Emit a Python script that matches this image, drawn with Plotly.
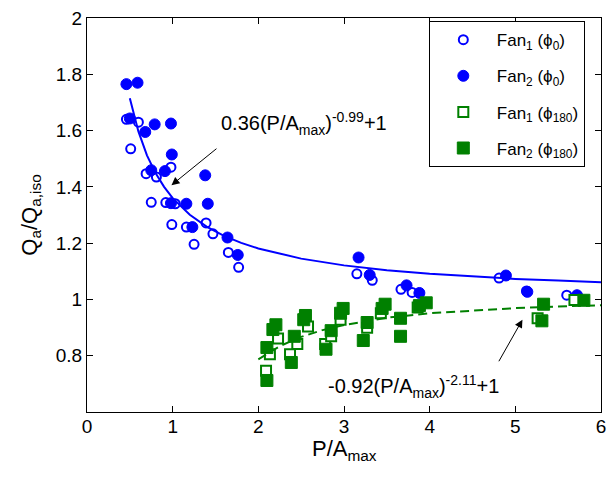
import plotly.graph_objects as go

# ---- data ----
fan1_phi0_x = [0.46, 0.60, 0.51, 0.98, 0.69, 0.81, 0.75, 0.92, 1.03, 0.99, 1.16, 1.39, 1.47, 1.25, 1.65, 1.77,
               3.15, 3.33, 3.665, 3.795, 4.81, 5.13, 5.60]
fan1_phi0_y = [1.64, 1.63, 1.535, 1.47, 1.447, 1.435, 1.345, 1.344, 1.34, 1.266, 1.257, 1.272, 1.233, 1.196, 1.167, 1.114,
               1.091, 1.068, 1.036, 1.025, 1.076, 1.03, 1.015]

fan2_phi0_x = [0.46, 0.59, 0.50, 0.79, 0.98, 0.68, 0.99, 0.75, 0.91, 1.38, 0.98, 1.16, 1.41, 1.23, 1.64, 1.76,
               3.17, 3.30, 3.73, 3.88, 4.89, 5.14, 5.72]
fan2_phi0_y = [1.765, 1.77, 1.643, 1.622, 1.625, 1.595, 1.515, 1.459, 1.456, 1.441, 1.342, 1.34, 1.34, 1.257, 1.22, 1.158,
               1.149, 1.087, 1.05, 1.023, 1.085, 1.027, 1.015]

fan1_phi180_x = [2.23, 2.455, 2.58, 2.135, 2.37, 2.09, 2.78, 2.85, 2.96, 3.27, 3.43, 3.86, 5.26, 5.69]
fan1_phi180_y = [0.861, 0.842, 0.904, 0.805, 0.805, 0.747, 0.842, 0.869, 0.928, 0.899, 0.951, 0.971, 0.933, 0.998]

fan2_phi180_x = [2.205, 2.17, 2.42, 2.55, 2.53, 2.10, 2.385, 2.10, 2.79, 2.85, 2.99, 2.96, 3.27, 3.225, 3.445, 3.48,
                 3.66, 3.66, 3.96, 3.88, 5.33, 5.31, 5.80]
fan2_phi180_y = [0.910, 0.893, 0.869, 0.943, 0.928, 0.829, 0.776, 0.712, 0.823, 0.889, 0.968, 0.951, 0.918, 0.854, 0.968, 0.983,
                 0.933, 0.869, 0.988, 0.978, 0.983, 0.924, 0.997]

# fitted curves
fit0_x = [0.5, 0.6, 0.7, 0.8, 0.9, 1.0, 1.2, 1.4, 1.6, 1.8, 2.0, 2.5, 3.0, 3.5, 4.0, 4.5, 5.0, 5.5, 6.0]
fit0_y = [1.715, 1.597, 1.512, 1.449, 1.400, 1.360, 1.301, 1.258, 1.226, 1.201, 1.181, 1.145, 1.121, 1.104, 1.091,
          1.081, 1.073, 1.067, 1.061]
fit180_x = [2.0, 2.25, 2.5, 2.75, 3.0, 3.5, 4.0, 4.5, 5.0, 5.5, 6.0]
fit180_y = [0.787, 0.834, 0.867, 0.891, 0.909, 0.935, 0.951, 0.961, 0.969, 0.975, 0.979]

legend_names = ["Fan<sub>1</sub> (ϕ<sub>0</sub>)", "Fan<sub>2</sub> (ϕ<sub>0</sub>)",
                "Fan<sub>1</sub> (ϕ<sub>180</sub>)", "Fan<sub>2</sub> (ϕ<sub>180</sub>)"]
x_ticks = [0, 1, 2, 3, 4, 5, 6]
y_ticks = [0.8, 1.0, 1.2, 1.4, 1.6, 1.8, 2.0]
y_tick_text = ["0.8", "1", "1.2", "1.4", "1.6", "1.8", "2"]

BLUE = "#0000FF"
GREEN = "#008000"
FONT = "Liberation Sans, Arial, sans-serif"

fig = go.Figure()
fig.add_trace(go.Scatter(x=fan1_phi0_x, y=fan1_phi0_y, mode="markers", name=legend_names[0],
                         legendgroup="a",
                         marker=dict(symbol="circle", size=9, color="white", line=dict(color=BLUE, width=2))))
fig.add_trace(go.Scatter(x=fan2_phi0_x, y=fan2_phi0_y, mode="markers", name=legend_names[1],
                         legendgroup="b",
                         marker=dict(symbol="circle", size=11, color=BLUE, line=dict(color=BLUE, width=1))))
fig.add_trace(go.Scatter(x=fan1_phi180_x, y=fan1_phi180_y, mode="markers", name=legend_names[2],
                         legendgroup="c",
                         marker=dict(symbol="square", size=10, color="white", line=dict(color=GREEN, width=2))))
fig.add_trace(go.Scatter(x=fan2_phi180_x, y=fan2_phi180_y, mode="markers", name=legend_names[3],
                         legendgroup="d",
                         marker=dict(symbol="square", size=12, color=GREEN, line=dict(color=GREEN, width=1))))
fig.add_trace(go.Scatter(x=fit0_x, y=fit0_y, mode="lines", showlegend=False,
                         line=dict(color=BLUE, width=2)))
fig.add_trace(go.Scatter(x=fit180_x, y=fit180_y, mode="lines", showlegend=False,
                         line=dict(color=GREEN, width=2, dash="9px,5px")))

annos = [
    # arrows
    dict(x=0.986, y=1.406, ax=1.529, ay=1.540, xref="x", yref="y", axref="x", ayref="y",
         text="", showarrow=True, arrowhead=2, arrowsize=1.6, arrowwidth=1, arrowcolor="black"),
    dict(x=5.083, y=0.928, ax=4.798, ay=0.775, xref="x", yref="y", axref="x", ayref="y",
         text="", showarrow=True, arrowhead=2, arrowsize=1.6, arrowwidth=1, arrowcolor="black"),
    dict(x=1.535, y=1.625, xref="x", yref="y", xanchor="left", yanchor="middle", showarrow=False,
         text="0.36(P/A<sub>max</sub>)<sup>-0.99</sup>+1", font=dict(size=20, color="black", family=FONT)),
    dict(x=2.786, y=0.691, xref="x", yref="y", xanchor="left", yanchor="middle", showarrow=False,
         text="-0.92(P/A<sub>max</sub>)<sup>-2.11</sup>+1", font=dict(size=20, color="black", family=FONT)),
    # x-axis title
    dict(x=0.5, y=-0.097, xref="paper", yref="paper", xanchor="center", yanchor="middle", showarrow=False,
         text="P/A<sub>max</sub>", font=dict(size=22, color="black", family=FONT)),
]

fig.update_layout(
    width=614, height=477,
    margin=dict(l=87, r=8, t=12, b=65),
    paper_bgcolor="white", plot_bgcolor="white",
    font=dict(family=FONT, size=19, color="black"),
    showlegend=True,
    legend=dict(x=0.665, y=0.992, xanchor="left", yanchor="top",
                bordercolor="black", borderwidth=1, bgcolor="white", itemwidth=57,
                font=dict(size=17, family=FONT), traceorder="grouped", tracegroupgap=11),
    annotations=annos,
)
fig.update_xaxes(range=[0, 6], tickvals=x_ticks, ticks="inside", ticklen=6, tickcolor="black",
                 showline=True, linecolor="black", linewidth=1, mirror="ticks", showgrid=False, zeroline=False,
                 ticklabelstandoff=-3)
fig.update_yaxes(range=[0.6, 2], tickvals=y_ticks, ticktext=y_tick_text, ticks="inside", ticklen=6, tickcolor="black",
                 showline=True, linecolor="black", linewidth=1, mirror="ticks", showgrid=False, zeroline=False,
                 title=dict(text="Q<sub>a</sub>/Q<sub>a,iso</sub>", font=dict(size=22), standoff=12))

fig.write_html("out.html", config={"displayModeBar": False},
               post_script="document.body.style.margin='0px';document.body.style.padding='0px';")
